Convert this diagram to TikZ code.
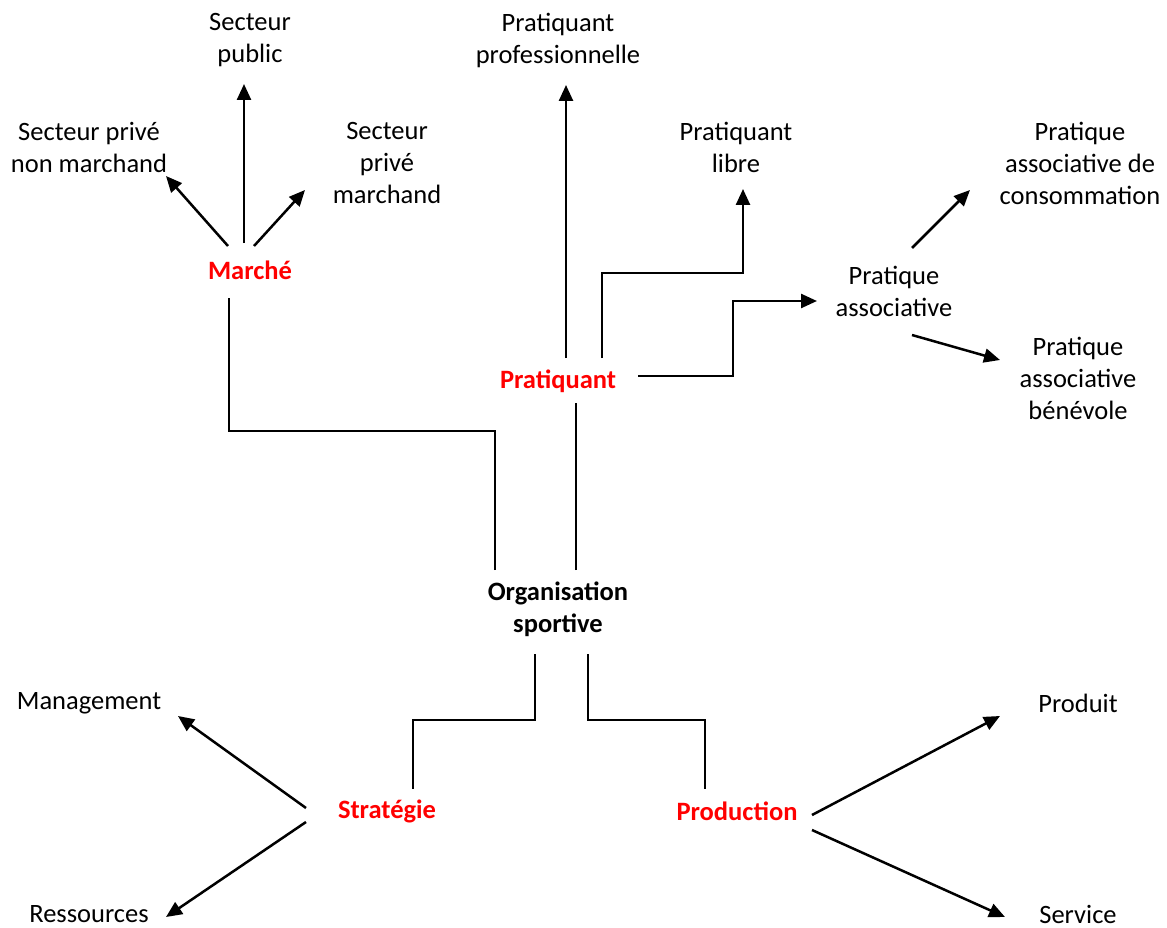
\documentclass[tikz,border=0pt]{standalone}
\usepackage{fontspec}
\setmainfont{Carlito}
\usetikzlibrary{arrows.meta}

\begin{document}
\begin{tikzpicture}[x=1pt, y=-1pt,
    lbl/.style={inner sep=0pt, align=center, font=\fontsize{26.5}{32}\selectfont},
    key/.style={lbl, text=red, font=\fontsize{26.5}{32}\selectfont\bfseries},
    arr/.style={line width=2.5pt, -{Triangle[length=16pt, width=14pt]}},
    elb/.style={line width=2pt}]
    \useasboundingbox (0,0) rectangle (1167,928);

    % central node and the four branches
    \node[lbl, font=\fontsize{26.5}{32}\selectfont\bfseries] (org) at (558,609) {Organisation\\sportive};
    \node[key] (marche) at (250,270) {Marché};
    \node[key] (prat) at (558,381) {Pratiquant};
    \node[key] (strat) at (387,811) {Stratégie};
    \node[key] (prod) at (737,811) {Production};

    % leaves
    \node[lbl] (pub) at (250,40) {Secteur\\public};
    \node[lbl] (privnm) at (89,147) {Secteur privé\\non marchand};
    \node[lbl] (privm) at (387,163) {Secteur\\privé\\marchand};
    \node[lbl] (pro) at (558,40) {Pratiquant\\professionnelle};
    \node[lbl] (libre) at (736,147) {Pratiquant\\libre};
    \node[lbl] (assoc) at (894,291) {Pratique\\associative};
    \node[lbl] (conso) at (1080,163) {Pratique\\associative de\\consommation};
    \node[lbl] (benev) at (1078,378) {Pratique\\associative\\bénévole};
    \node[lbl] (mgmt) at (89,703) {Management};
    \node[lbl] (ress) at (89,914) {Ressources};
    \node[lbl] (produit) at (1078,703) {Produit};
    \node[lbl] (serv) at (1078,914) {Service};

    % organisation -> branches
    \draw[elb] ([shift={(-63,-39)}]org.center) -- ++(0,-139) -| ([shift={(-21,28)}]marche.center);
    \draw[elb] ([shift={(18,-39)}]org.center) -- ([shift={(18,22)}]prat.center);
    \draw[elb] ([shift={(-23,45)}]org.center) -- ++(0,66) -| ([shift={(26,-22)}]strat.center);
    \draw[elb] ([shift={(30,45)}]org.center) -- ++(0,66) -| ([shift={(-32,-22)}]prod.center);

    % marche
    \draw[arr] ([shift={(-6,-27)}]marche.center) -- ([shift={(-6,44)}]pub.center);
    \draw[arr] ([shift={(-22,-24)}]marche.center) -- ([shift={(77,29)}]privnm.center);
    \draw[arr] ([shift={(4,-24)}]marche.center) -- ([shift={(-82,27)}]privm.center);

    % pratiquant
    \draw[arr] ([shift={(8,-23)}]prat.center) -- ([shift={(8,45)}]pro.center);
    \draw[arr] ([shift={(44,-23)}]prat.center) -- ++(0,-85) -| ([shift={(7,42)}]libre.center);
    \draw[arr] ([shift={(80,-5)}]prat.center) -- ++(95,0) |- ([shift={(-77,10)}]assoc.center);
    \draw[arr] ([shift={(18,-43)}]assoc.center) -- ([shift={(-110,27)}]conso.center);
    \draw[arr] ([shift={(18,44)}]assoc.center) -- ([shift={(-78,-18)}]benev.center);

    % strategie, production
    \draw[arr] ([shift={(-81,-3)}]strat.center) -- ([shift={(89,13)}]mgmt.center);
    \draw[arr] ([shift={(-81,11)}]strat.center) -- ([shift={(77,3)}]ress.center);
    \draw[arr] ([shift={(75,4)}]prod.center) -- ([shift={(-78,13)}]produit.center);
    \draw[arr] ([shift={(75,19)}]prod.center) -- ([shift={(-73,3)}]serv.center);
\end{tikzpicture}
\end{document}
